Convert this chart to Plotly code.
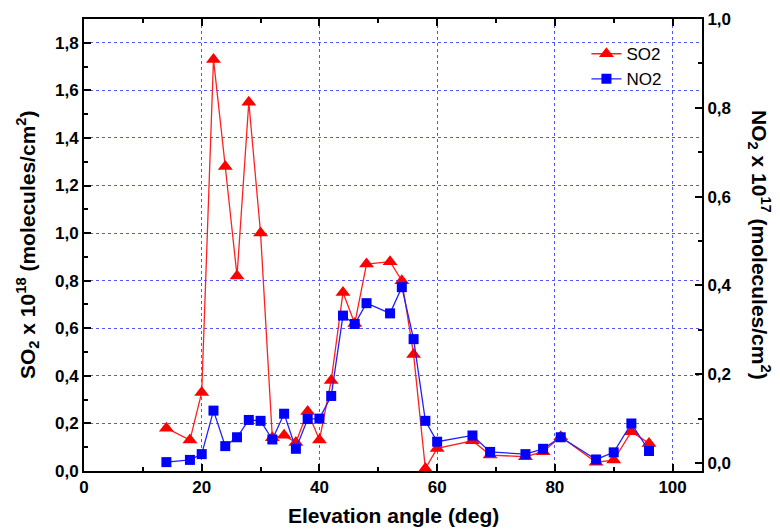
import plotly.graph_objects as go

elevation = [14, 18, 20, 22, 24, 26, 28, 30, 32, 34, 36, 38, 40, 42, 44, 46, 48, 52, 54, 56, 58, 60, 66, 69, 75, 78, 81, 87, 90, 93, 96]
so2 = [0.18, 0.13, 0.33, 1.73, 1.28, 0.82, 1.55, 1.00, 0.14, 0.15, 0.12, 0.25, 0.13, 0.38, 0.75, 0.62, 0.87, 0.88, 0.80, 0.49, 0.01, 0.095, 0.127, 0.067, 0.06, 0.081, 0.144, 0.037, 0.046, 0.165, 0.116]
no2 = [0.002, 0.007, 0.02, 0.118, 0.038, 0.058, 0.097, 0.095, 0.053, 0.111, 0.032, 0.099, 0.1, 0.151, 0.332, 0.313, 0.36, 0.337, 0.396, 0.279, 0.095, 0.048, 0.062, 0.025, 0.02, 0.032, 0.058, 0.008, 0.024, 0.089, 0.027]

FONT = "Liberation Sans, Arial, sans-serif"

fig = go.Figure()
fig.add_trace(go.Scatter(
    x=elevation, y=so2, name="SO2", mode="lines+markers",
    line=dict(color="#ff2020", width=1.3),
    marker=dict(symbol="triangle-up", size=13, color="#ff0000"),
    yaxis="y"))
fig.add_trace(go.Scatter(
    x=elevation, y=no2, name="NO2", mode="lines+markers",
    line=dict(color="#2020ff", width=1.3),
    marker=dict(symbol="square", size=10, color="#0000ff"),
    yaxis="y2"))

tickfont = dict(family=FONT, size=17, color="black", weight="bold")
titlefont = dict(family=FONT, size=21, color="black", weight="bold")
minor_common = dict(ticks="inside", ticklen=4, tickwidth=2, tickcolor="black", showgrid=False)

fig.update_layout(
    width=772, height=521,
    margin=dict(l=76, r=78, t=11, b=58),
    paper_bgcolor="white", plot_bgcolor="white",
    separators=", ",
    font=dict(family=FONT, color="black"),
    showlegend=True,
    legend=dict(x=0.813, y=0.962, xanchor="left", yanchor="top",
                bgcolor="rgba(0,0,0,0)", font=dict(family=FONT, size=17, color="black"),
                tracegroupgap=0),
    xaxis=dict(
        range=[0, 105], tickvals=[0, 20, 40, 60, 80, 100], automargin=False,
        ticks="inside", ticklen=7, tickwidth=2, tickcolor="black",
        minor=dict(dtick=10, tick0=0, **minor_common),
        showline=True, linewidth=2, linecolor="black", mirror="ticks",
        showgrid=True, gridcolor="#5555ff", griddash="dot", gridwidth=1,
        zeroline=False, tickfont=tickfont,
    ),
    yaxis=dict(
        range=[0, 1.9], tick0=0, dtick=0.2, tickformat=".1f", automargin=False,
        ticks="inside", ticklen=7, tickwidth=2, tickcolor="black",
        minor=dict(dtick=0.1, tick0=0, **minor_common),
        showline=True, linewidth=2, linecolor="black",
        showgrid=True, gridcolor="#5555ff", griddash="dot", gridwidth=1,
        zeroline=False, tickfont=tickfont,
    ),
    yaxis2=dict(
        overlaying="y", side="right", anchor="x", automargin=False,
        range=[-0.018, 1.0], tick0=0, dtick=0.2, tickformat=".1f",
        ticks="inside", ticklen=7, tickwidth=2, tickcolor="black",
        minor=dict(dtick=0.1, tick0=0, **minor_common),
        showline=True, linewidth=2, linecolor="black",
        showgrid=False, zeroline=False, tickfont=tickfont,
    ),
    annotations=[
        dict(text="Elevation angle (deg)", xref="paper", yref="paper",
             x=0.5, y=0, xanchor="center", yanchor="middle", yshift=-44,
             showarrow=False, font=titlefont),
        dict(text="SO<sub>2</sub> x 10<sup>18</sup> (molecules/cm<sup>2</sup>)",
             xref="paper", yref="paper", x=0, y=0.5, xanchor="center", yanchor="middle",
             xshift=-57, textangle=-90, showarrow=False, font=titlefont),
        dict(text="NO<sub>2</sub> x 10<sup>17</sup> (molecules/cm<sup>2</sup>)",
             xref="paper", yref="paper", x=1.0, y=0.5, xanchor="center", yanchor="middle",
             xshift=58, textangle=90, showarrow=False, font=titlefont),
    ],
)

fig.write_html("out.html")
